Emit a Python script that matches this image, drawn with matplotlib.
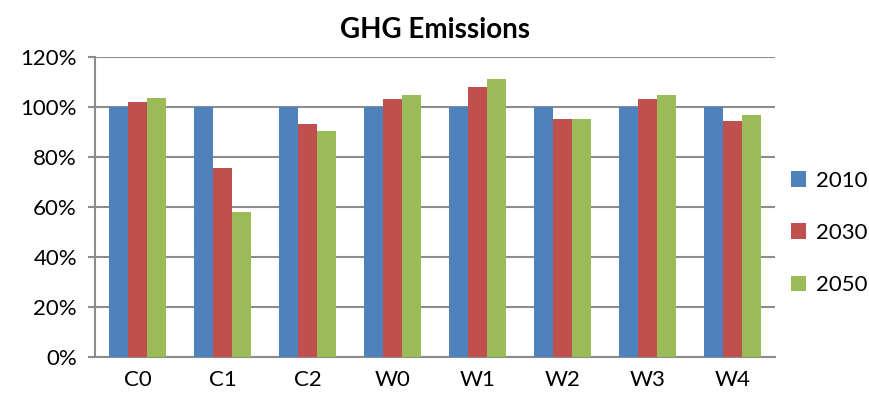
import numpy as np
import matplotlib
matplotlib.use("Agg")
import matplotlib.pyplot as plt
from matplotlib.ticker import PercentFormatter

plt.rcParams['font.family'] = ['Lato', 'DejaVu Sans']

# data (percent of 2010)
categories = ["C0", "C1", "C2", "W0", "W1", "W2", "W3", "W4"]
years = ["2010", "2030", "2050"]
v2010 = [100, 100, 100, 100, 100, 100, 100, 100]
v2030 = [102, 75.5, 93.2, 103, 107.8, 95, 103, 94.3]
v2050 = [103.6, 57.8, 90.3, 104.6, 111, 95, 104.6, 96.6]
colors = ["#4F81BD", "#C0504D", "#9BBB59"]

fig = plt.figure(figsize=(8.69, 4.01), dpi=100)
ax = fig.add_axes([95 / 869, 44 / 401, 680 / 869, 300 / 401])

x = np.arange(len(categories))
w = 0.225
for i, (vals, c, lab) in enumerate(zip([v2010, v2030, v2050], colors, years)):
    ax.bar(x + (i - 1) * w, vals, width=w, color=c, label=lab, zorder=3)

ax.set_xlim(-0.5, len(categories) - 0.5)
ax.set_ylim(0, 120)
ax.set_yticks(np.arange(0, 121, 20))
ax.yaxis.set_major_formatter(PercentFormatter(decimals=0))
ax.set_xticks(x)
ax.set_xticklabels(categories)
ax.grid(axis="y", color="#8C8C8C", linewidth=1.5, zorder=0)

for s in ["top", "right"]:
    ax.spines[s].set_visible(False)
for s in ["left", "bottom"]:
    ax.spines[s].set_color("#8C8C8C")
    ax.spines[s].set_linewidth(1.5)
ax.tick_params(axis="y", length=5, color="#8C8C8C", width=1.5, labelsize=16, pad=8)
ax.tick_params(axis="x", length=0, labelsize=16, pad=9)

ax.set_title("GHG Emissions", fontsize=20, fontweight="bold", pad=14)

ax.legend(loc="center left", bbox_to_anchor=(782 / 869, 1 - 233 / 401),
          bbox_transform=fig.transFigure, frameon=False, borderaxespad=0,
          fontsize=16, handlelength=0.7, handleheight=0.7, labelspacing=1.45,
          handletextpad=0.45)

fig.savefig("out.png", dpi=100)
